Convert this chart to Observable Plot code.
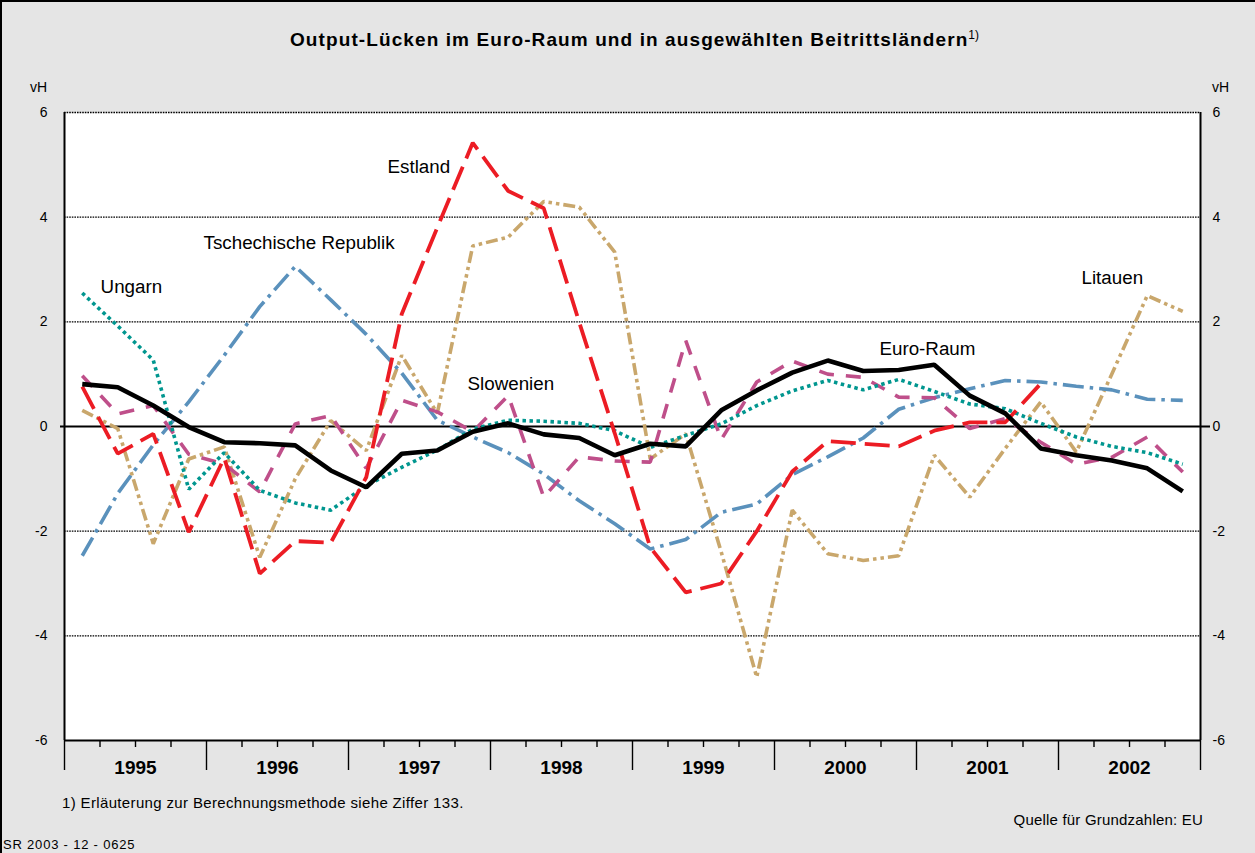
<!DOCTYPE html>
<html>
<head>
<meta charset="utf-8">
<script src="https://cdn.jsdelivr.net/npm/d3@7"></script>
<script src="https://cdn.jsdelivr.net/npm/@observablehq/plot@0.6"></script>
<style>
  html, body { margin: 0; padding: 0; background: #e5e5e5; }
  #wrap { position: relative; width: 1255px; height: 853px; background: #e5e5e5; overflow: hidden;
          font-family: "Liberation Sans", Arial, Helvetica, sans-serif; color: #000; }
  #wrap .t { position: absolute; white-space: nowrap; }
  #border { position: absolute; left: 0; top: 0; width: 1255px; height: 853px; box-sizing: border-box;
            border-left: 2px solid #000; border-top: 2px solid #000; pointer-events: none; }
</style>
</head>
<body>
<div id="wrap">
  <div class="t" style="left:0; width:1255px; top:29px; text-align:center; font-weight:bold; font-size:19px; letter-spacing:1.1px; padding-left:14px; box-sizing:border-box;">Output-Lücken im Euro-Raum und in ausgewählten Beitrittsländern<span style="font-weight:normal; font-size:12px; letter-spacing:0; position:relative; top:-7px;">1)</span></div>
  <div class="t" style="left:30px; top:79px; font-size:14px;">vH</div>
  <div class="t" style="left:1212px; top:79px; font-size:14px;">vH</div>
  <div class="t" style="left:62px; top:794px; font-size:15px; letter-spacing:0.35px;">1) Erläuterung zur Berechnungsmethode siehe Ziffer 133.</div>
  <div class="t" style="right:52px; top:811px; font-size:15px; letter-spacing:0.2px;">Quelle für Grundzahlen: EU</div>
  <div class="t" style="left:3px; top:837px; font-size:13px; letter-spacing:0.8px;">SR 2003 - 12 - 0625</div>
  <div id="chart" style="position:absolute; left:0; top:0;"></div>
  <div id="border"></div>
</div>
<script>
// ---- data (quarterly, 1995 Q1 – 2002 Q4) ----
const years = [1995, 1996, 1997, 1998, 1999, 2000, 2001, 2002];
const quarterX = d3.range(32).map(i => 1995 + (i + 0.5) / 4);

const euroRaum = [0.81, 0.75, 0.40, -0.01, -0.30, -0.32, -0.36, -0.84, -1.16, -0.52, -0.46, -0.10, 0.06, -0.15, -0.22, -0.55,
                  -0.33, -0.38, 0.31, 0.69, 1.03, 1.26, 1.06, 1.08, 1.18, 0.59, 0.25, -0.42, -0.55, -0.65, -0.80, -1.24];
const ungarn = [2.55, 1.92, 1.27, -1.20, -0.50, -1.22, -1.46, -1.60, -1.13, -0.78, -0.45, -0.05, 0.12, 0.10, 0.06, -0.08,
                -0.40, -0.17, 0.05, 0.40, 0.68, 0.88, 0.70, 0.90, 0.67, 0.43, 0.34, 0.06, -0.20, -0.38, -0.50, -0.72];
const tschechien = [-2.47, -1.28, -0.35, 0.47, 1.36, 2.29, 3.06, 2.42, 1.76, 1.02, 0.12, -0.20, -0.50, -0.91, -1.42, -1.86,
                    -2.34, -2.16, -1.64, -1.48, -0.92, -0.58, -0.22, 0.33, 0.55, 0.72, 0.88, 0.85, 0.77, 0.70, 0.52, 0.50];
const estland = [0.76, -0.52, -0.14, -2.02, -0.60, -2.81, -2.19, -2.22, -0.97, 2.15, 3.80, 5.42, 4.50, 4.17, 1.99, -0.13,
                 -2.31, -3.17, -3.00, -2.00, -0.86, -0.28, -0.33, -0.38, -0.08, 0.08, 0.08, 0.82, null, null, null, null];
const litauen = [0.31, -0.04, -2.24, -0.62, -0.39, -2.50, -1.00, 0.11, -0.46, 1.36, 0.25, 3.45, 3.62, 4.30, 4.19, 3.33,
                 -0.62, -0.14, -2.40, -4.79, -1.60, -2.43, -2.56, -2.47, -0.55, -1.35, -0.42, 0.47, -0.49, 1.00, 2.50, 2.20];
const slowenien = [0.97, 0.24, 0.40, -0.53, -0.72, -1.25, 0.05, 0.21, -0.80, 0.50, 0.28, -0.10, 0.59, -1.35, -0.58, -0.66,
                   -0.68, 1.64, -0.25, 0.85, 1.25, 1.00, 0.94, 0.56, 0.55, -0.04, 0.15, -0.30, -0.72, -0.59, -0.20, -0.87];

const seriesNames = ["Litauen", "Tschechische Republik", "Slowenien", "Ungarn", "Estland", "Euro-Raum"];
const seriesValues = [litauen, tschechien, slowenien, ungarn, estland, euroRaum];

const yTicks = [-6, -4, -2, 0, 2, 4, 6];
const gridTicks = [-4, -2, 2, 4, 6];

// line labels: [name, x (year), y (value)]
const labelNames = ["Estland", "Tschechische Republik", "Ungarn", "Slowenien", "Euro-Raum", "Litauen"];
const labelX = [1997.275, 1995.979, 1995.254, 1997.838, 2000.739, 2002.162];
const labelY = [4.95, 3.50, 2.66, 0.82, 1.49, 2.83];

// ---- styles ----
const styles = {
  "Euro-Raum": {stroke: "#000000", strokeWidth: 4.6, strokeDasharray: null, strokeLinecap: "butt", strokeLinejoin: "miter"},
  "Ungarn": {stroke: "#00968f", strokeWidth: 3.6, strokeDasharray: "3.5,3.5", strokeLinecap: "butt", strokeLinejoin: "miter"},
  "Tschechische Republik": {stroke: "#5a91bc", strokeWidth: 3.6, strokeDasharray: "21,6,3.5,6", strokeLinecap: "butt", strokeLinejoin: "miter"},
  "Estland": {stroke: "#ec1c24", strokeWidth: 3.8, strokeDasharray: "25,9", strokeLinecap: "butt", strokeLinejoin: "miter"},
  "Litauen": {stroke: "#c9a76c", strokeWidth: 3.6, strokeDasharray: "12,4,3.5,4,3.5,4", strokeLinecap: "butt", strokeLinejoin: "miter"},
  "Slowenien": {stroke: "#bf4f8a", strokeWidth: 3.6, strokeDasharray: "15,12", strokeLinecap: "butt", strokeLinejoin: "miter"}
};

const lineMarks = seriesNames.map((name, k) => {
  const rows = seriesValues[k].map((v, i) => ({x: quarterX[i], y: v == null ? NaN : v}));
  return Plot.line(rows, {x: "x", y: "y", ...styles[name]});
});

const labels = labelNames.map((n, i) => ({text: n, x: labelX[i], y: labelY[i]}));
const yearBounds = [...years, 2003];
const quarterTicks = d3.range(33).map(i => 1995 + i / 4).filter(v => !Number.isInteger(v));
const yearMids = years.map(y => y + 0.5);

const chart = Plot.plot({
  width: 1255,
  height: 853,
  marginLeft: 64,
  marginRight: 55,
  marginTop: 112,
  marginBottom: 113,
  x: {domain: [1995, 2003]},
  y: {domain: [-6, 6]},
  style: {background: "transparent", overflow: "visible", fontFamily: "'Liberation Sans', Arial, Helvetica, sans-serif", color: "#000"},
  marks: [
    Plot.frame({fill: "white", stroke: "none"}),
    Plot.gridY(gridTicks, {stroke: "#000", strokeOpacity: 1, strokeWidth: 1.4, strokeDasharray: "1.6,1"}),
    Plot.ruleY([-6], {stroke: "#000", strokeWidth: 2}),
    Plot.ruleX([1995, 2003], {stroke: "#000", strokeWidth: 2}),
    Plot.ruleY([0], {stroke: "#000", strokeWidth: 2, insetLeft: -4, insetRight: -10}),
    ...lineMarks,
    Plot.text(labels, {x: "x", y: "y", text: "text", textAnchor: "start", fontSize: 18.8, fill: "#000"}),
    Plot.axisX({ticks: yearBounds, tickSize: 30, tickFormat: () => "", label: null, strokeWidth: 1.4}),
    Plot.axisX({ticks: quarterTicks, tickSize: 7, tickFormat: () => "", label: null, strokeWidth: 1.4}),
    Plot.axisX({ticks: yearMids, tickSize: 0, tickPadding: 20, tickFormat: d => String(Math.floor(d)), fontWeight: "bold", fontSize: 19, label: null}),
    Plot.axisY({ticks: yTicks, anchor: "left", tickSize: 0, tickPadding: 17, tickFormat: d => String(d), fontSize: 14, label: null}),
    Plot.axisY({ticks: yTicks, anchor: "right", tickSize: 0, tickPadding: 12, tickFormat: d => String(d), fontSize: 14, label: null})
  ]
});
document.getElementById("chart").appendChild(chart);
</script>
</body>
</html>
